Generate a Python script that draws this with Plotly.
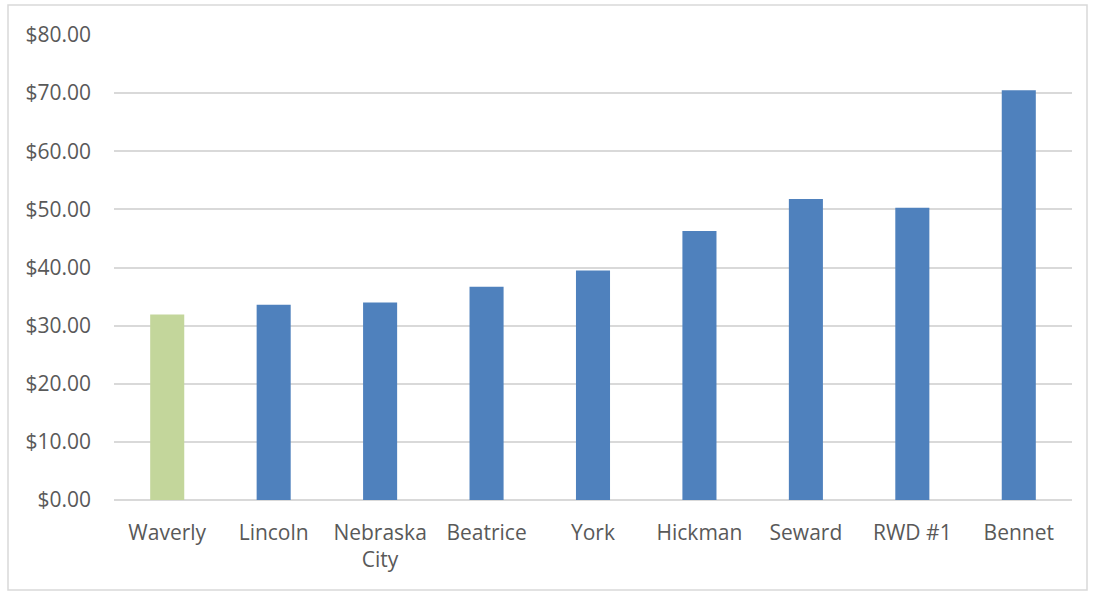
import plotly.graph_objects as go

categories = ["Waverly", "Lincoln", "Nebraska<br>City", "Beatrice", "York",
              "Hickman", "Seward", "RWD #1", "Bennet"]
values = [31.9, 33.6, 34.0, 36.7, 39.5, 46.3, 51.8, 50.3, 70.5]
colors = ["#C3D69B"] + ["#4F81BD"] * 8
y_ticks = [0, 10, 20, 30, 40, 50, 60, 70, 80]
y_tick_labels = ["$%.2f" % v for v in y_ticks]

W, H = 1093, 592
ml, mr, mt, mb = 114, 21, 35, 92
pw, ph = W - ml - mr, H - mt - mb

fig = go.Figure(go.Bar(
    x=categories, y=values, marker=dict(color=colors, line=dict(width=0)),
    width=0.32,
))

font = dict(family="Open Sans, Segoe UI, Calibri, sans-serif", size=21, color="#595959")

fig.update_layout(
    width=W, height=H,
    margin=dict(l=ml, r=mr, t=mt, b=mb),
    paper_bgcolor="white", plot_bgcolor="white",
    font=font,
    showlegend=False,
    xaxis=dict(showgrid=False, showline=False, zeroline=False, ticks="",
               ticklabelstandoff=18, tickfont=font),
    yaxis=dict(range=[0, 80], tickvals=y_ticks, ticktext=y_tick_labels,
               showgrid=True, gridcolor="#D9D9D9", gridwidth=1.5,
               zeroline=True, zerolinecolor="#D9D9D9", zerolinewidth=1.5,
               showline=False, ticks="", ticklabelstandoff=22, tickfont=font),
    shapes=[dict(type="rect", xref="paper", yref="paper",
                 x0=(8 - ml) / pw, x1=(1087 - ml) / pw,
                 y0=(H - mb - 590) / ph, y1=(H - mb - 5) / ph,
                 line=dict(color="#D9D9D9", width=1.5), fillcolor="rgba(0,0,0,0)",
                 layer="below")],
)

fig.write_html("out.html")
